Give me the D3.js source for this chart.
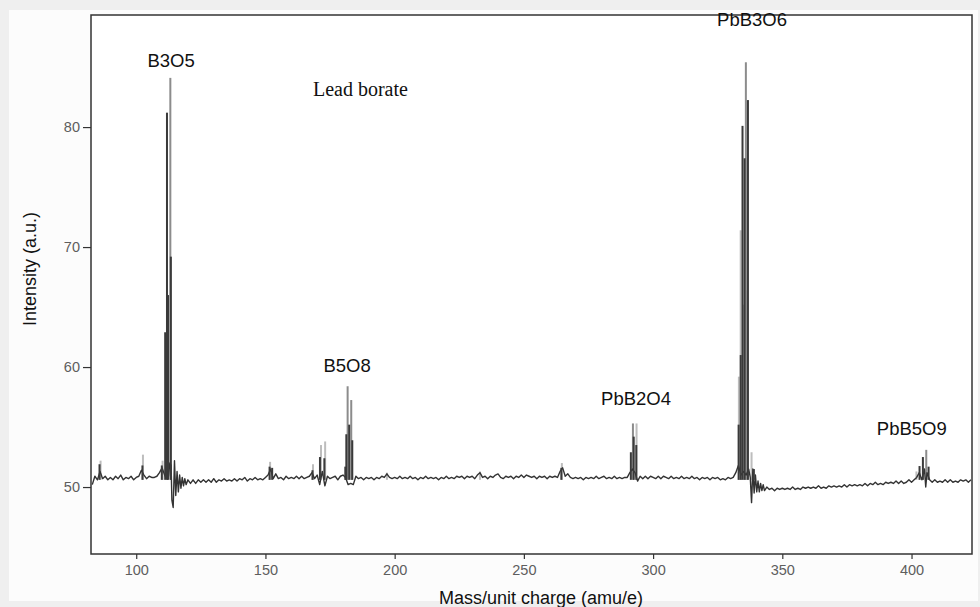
<!DOCTYPE html>
<html>
<head>
<meta charset="utf-8">
<script src="https://cdn.jsdelivr.net/npm/d3@7"></script>
<style>
  body { margin: 0; background: #efefef; }
  svg { display: block; }
  .axis text { font-family: "Liberation Sans", Arial, sans-serif; font-size: 14.5px; fill: #5e5e5e; }
  .axis line { stroke: #333; stroke-width: 1.2; }
  .axis path { display: none; }
  .title { font-family: "Liberation Sans", Arial, sans-serif; font-size: 18px; fill: #111; }
  .peak { font-family: "Liberation Sans", Arial, sans-serif; font-size: 18.5px; fill: #111; text-anchor: middle; }
  .note { font-family: "Liberation Serif", "Times New Roman", serif; font-size: 20px; fill: #111; }
</style>
</head>
<body>
<svg id="chart" width="980" height="607"></svg>
<script>
// spectrum trace, [m/z, intensity]
const trace = [
  [83,50.2],[84,50.9],[85,50.6],[86,51.3],[87,50.7],[88,50.9],[89,50.6],[90,50.8],[91,50.6],[92,50.9],
  [93,50.7],[94,51.0],[95,50.6],[96,50.8],[97,50.7],[98,50.9],[99,50.6],[100,50.8],[101,50.9],[102,51.4],
  [103,51.0],[104,50.7],[105,50.9],[106,50.8],[107,50.8],[108,50.9],[109,51.2],[110,51.6],[111,51.0],[111.5,50.8],
  [112,51.3],[112.5,50.9],[113,52.0],[113.5,51.8],[113.8,48.9],[114.3,48.3],[114.8,52.2],[115.3,49.3],[115.8,51.3],[116.3,49.6],
  [116.8,51.0],[117.3,49.9],[117.8,50.8],[118.3,50.1],[118.8,50.7],[119.3,50.2],[120,50.6],[121,50.3],[122,50.6],[123,50.3],
  [124,50.6],[125,50.4],[126,50.6],[127,50.4],[128,50.6],[129,50.4],[130,50.7],[131,50.4],[132,50.6],[133,50.5],
  [134,50.7],[135,50.5],[136,50.6],[137,50.5],[138,50.7],[139,50.5],[140,50.7],[141,50.6],[142,50.8],[143,50.5],
  [144,50.7],[145,50.6],[146,50.8],[147,50.6],[148,50.7],[149,50.6],[150,50.8],[151,51.0],[152,51.5],[153,50.7],
  [154,51.1],[155,50.7],[156,50.8],[157,50.6],[158,50.9],[159,50.7],[160,50.8],[161,50.7],[162,50.9],[163,50.7],
  [164,50.9],[165,50.7],[166,50.8],[167,50.9],[168,51.2],[169,50.7],[170,51.0],[171,50.2],[172,51.3],[173,50.1],
  [174,50.9],[175,50.7],[176,50.8],[177,50.9],[178,50.6],[179,50.9],[180,51.0],[181,50.8],[182,50.2],[183,50.3],
  [184,50.2],[185,50.9],[186,50.7],[187,50.8],[188,50.6],[189,50.8],[190,50.7],[191,50.8],[192,50.6],[193,50.8],
  [194,50.7],[195,50.9],[196,50.8],[197,51.1],[198,50.8],[199,50.7],[200,50.8],[201,50.7],[202,50.9],[203,50.7],
  [204,50.8],[205,50.7],[206,50.9],[207,50.7],[208,50.8],[209,50.6],[210,50.8],[211,50.7],[212,50.9],[213,50.7],
  [214,50.8],[215,50.7],[216,50.8],[217,50.6],[218,50.8],[219,50.7],[220,50.9],[221,50.7],[222,50.8],[223,50.7],
  [224,50.9],[225,50.8],[226,50.9],[227,50.7],[228,50.9],[229,50.8],[230,50.9],[231,50.7],[232,51.0],[233,51.2],
  [234,50.8],[235,50.9],[236,50.7],[237,50.9],[238,50.8],[239,51.0],[240,51.1],[241,50.8],[242,50.7],[243,50.9],
  [244,50.8],[245,50.9],[246,50.7],[247,50.9],[248,50.8],[249,51.0],[250,50.8],[251,51.0],[252,50.9],[253,50.8],
  [254,50.9],[255,50.7],[256,50.9],[257,50.8],[258,50.9],[259,50.7],[260,50.9],[261,50.8],[262,50.9],[263,50.8],
  [264,51.3],[265,51.6],[266,50.9],[267,51.1],[268,50.8],[269,50.7],[270,50.8],[271,50.7],[272,50.8],[273,50.6],
  [274,50.8],[275,50.7],[276,50.8],[277,50.7],[278,50.9],[279,50.7],[280,50.8],[281,50.9],[282,50.7],[283,50.8],
  [284,50.7],[285,50.9],[286,50.7],[287,50.8],[288,50.7],[289,50.8],[290,50.8],[291,51.2],[292,51.5],[293,51.2],
  [294,50.5],[295,50.9],[296,50.7],[297,50.9],[298,50.7],[299,50.9],[300,50.8],[301,50.7],[302,50.9],[303,50.7],
  [304,50.9],[305,50.8],[306,50.7],[307,50.9],[308,50.7],[309,50.8],[310,50.7],[311,50.9],[312,50.7],[313,50.8],
  [314,50.7],[315,50.9],[316,50.7],[317,50.8],[318,50.6],[319,50.8],[320,50.7],[321,50.8],[322,50.6],[323,50.8],
  [324,50.7],[325,50.8],[326,50.6],[327,50.7],[328,50.6],[329,50.8],[330,50.7],[331,50.8],[332,51.2],[333,51.8],
  [334,51.0],[335,51.3],[336,51.0],[337,51.5],[337.6,50.8],[338.1,48.7],[338.6,51.5],[339.1,49.5],[339.6,51.0],[340.1,49.6],
  [340.6,50.5],[341.1,49.6],[341.6,50.3],[342.1,49.7],[342.6,50.2],[343.1,49.7],[344,50.0],[345,49.8],[346,49.9],[347,49.7],
  [348,49.9],[349,49.8],[350,49.9],[351,49.8],[352,49.9],[353,49.8],[354,50.0],[355,49.8],[356,49.9],[357,49.8],
  [358,50.0],[359,49.9],[360,50.0],[361,49.9],[362,50.0],[363,49.9],[364,50.1],[365,49.9],[366,50.0],[367,49.9],
  [368,50.1],[369,50.0],[370,50.1],[371,50.0],[372,50.1],[373,50.0],[374,50.2],[375,50.0],[376,50.2],[377,50.1],
  [378,50.2],[379,50.1],[380,50.2],[381,50.1],[382,50.3],[383,50.1],[384,50.3],[385,50.2],[386,50.4],[387,50.2],
  [388,50.3],[389,50.2],[390,50.4],[391,50.3],[392,50.4],[393,50.3],[394,50.5],[395,50.3],[396,50.5],[397,50.3],
  [398,50.4],[399,50.6],[400,50.4],[401,50.6],[402,50.8],[403,51.2],[404,50.6],[405,51.5],[405.5,50.0],[406,51.2],
  [407,50.6],[408,50.4],[409,50.6],[410,50.4],[411,50.5],[412,50.4],[413,50.6],[414,50.4],[415,50.6],[416,50.4],
  [417,50.5],[418,50.4],[419,50.6],[420,50.5],[421,50.6],[422,50.4],[423,50.6]
];

// peak sticks from the overlaid scans, [m/z, top intensity]
const darkSticks = [
  [85.8,51.9],[102.4,51.8],[109.9,51.8],[111.2,62.9],[111.9,81.2],[112.3,66.0],[113.4,69.2],
  [151.6,51.7],[152.6,51.6],[168.2,51.4],[171.1,52.5],[172.8,52.4],[180.9,51.7],[181.3,54.4],
  [182.4,55.2],[183.6,53.9],[264.5,51.6],[291.4,52.9],[292.5,54.2],[293.5,53.5],[333.1,55.2],
  [333.9,61.0],[334.6,80.1],[335.4,77.4],[336.7,82.25],[339.0,51.5],[403.1,51.75],[404.4,52.5],[406.6,51.7]
];
const midSticks = [
  [113.2,84.1],[335.9,85.4],[181.8,58.4],[183.2,57.25],[292.2,55.3],[405.7,53.1]
];
const lightSticks = [
  [86.2,52.2],[102.6,52.7],[110.2,52.2],[151.8,52.1],[168.4,51.9],[171.5,53.5],[173.1,53.8],
  [197.0,51.2],[233.0,51.3],[264.7,52.0],[293.6,55.3],[333.2,59.2],[333.9,71.4],[335.2,65.2],
  [336.3,66.4],[338.1,52.9],[401.9,51.3]
];
const stickBase = 50.6;

const peakNames = ["B3O5", "B5O8", "PbB2O4", "PbB3O6", "PbB5O9"];
const peakNameMz = [113.5, 181.6, 293.4, 338.3, 400.1];
const peakNameY = [85.0, 59.6, 56.8, 88.4, 54.3];

const xTicks = [100, 150, 200, 250, 300, 350, 400];
const yTicks = [50, 60, 70, 80];

const margin = { top: 15, right: 8, bottom: 53, left: 91 };
const W = 980, H = 607;
const width = W - margin.left - margin.right;
const height = H - margin.top - margin.bottom;

const svg = d3.select("#chart");

svg.append("rect").attr("x", 9).attr("y", 10).attr("width", 969).attr("height", 591).attr("fill", "#fcfcfc");

const g = svg.append("g").attr("transform", "translate(" + margin.left + "," + margin.top + ")");

let x = d3.scaleLinear().domain([82.5, 423.4]).range([0, width]);
let y = d3.scaleLinear().domain([44.42, 89.34]).range([height, 0]);

g.append("rect").attr("width", width).attr("height", height).attr("fill", "#fff");

g.append("g")
  .attr("class", "x axis")
  .attr("transform", "translate(0," + height + ")")
  .call(d3.axisBottom(x).tickValues(xTicks).tickSize(5).tickSizeOuter(0).tickPadding(6));

g.append("g")
  .attr("class", "y axis")
  .call(d3.axisLeft(y).tickValues(yTicks).tickSize(8).tickSizeOuter(0).tickPadding(3));

let clip = g.append("clipPath").attr("id", "clip");
clip.append("rect").attr("width", width).attr("height", height);
let plot = g.append("g").attr("clip-path", "url(#clip)");

function drawSticks(data, colour) {
  plot.append("g").selectAll("rect")
    .data(data)
    .enter().append("rect")
    .attr("x", function (d) { return x(d[0]) - 1; })
    .attr("y", function (d) { return y(d[1]); })
    .attr("width", 2)
    .attr("height", function (d) { return y(stickBase) - y(d[1]); })
    .attr("fill", colour);
}

drawSticks(lightSticks, "#bdbdbd");
drawSticks(midSticks, "#8c8c8c");

plot.append("path")
  .datum(trace)
  .attr("fill", "none")
  .attr("stroke", "#333")
  .attr("stroke-width", 1.4)
  .attr("stroke-linejoin", "round")
  .attr("d", d3.line().x(function (d) { return x(d[0]); }).y(function (d) { return y(d[1]); }));

drawSticks(darkSticks, "#3a3a3a");

g.append("rect")
  .attr("width", width).attr("height", height)
  .attr("fill", "none").attr("stroke", "#333").attr("stroke-width", 1.5);

g.selectAll(".peak")
  .data(peakNames)
  .enter().append("text")
  .attr("class", "peak")
  .attr("x", function (d, i) { return x(peakNameMz[i]); })
  .attr("y", function (d, i) { return y(peakNameY[i]); })
  .text(function (d) { return d; });

g.append("text")
  .attr("class", "note")
  .attr("x", x(168.4))
  .attr("y", y(82.6))
  .text("Lead borate");

svg.append("text")
  .attr("class", "title")
  .attr("text-anchor", "middle")
  .attr("transform", "translate(36,269) rotate(-90)")
  .text("Intensity (a.u.)");

svg.append("text")
  .attr("class", "title")
  .attr("text-anchor", "middle")
  .attr("x", 541)
  .attr("y", 604)
  .text("Mass/unit charge (amu/e)");
</script>
</body>
</html>
